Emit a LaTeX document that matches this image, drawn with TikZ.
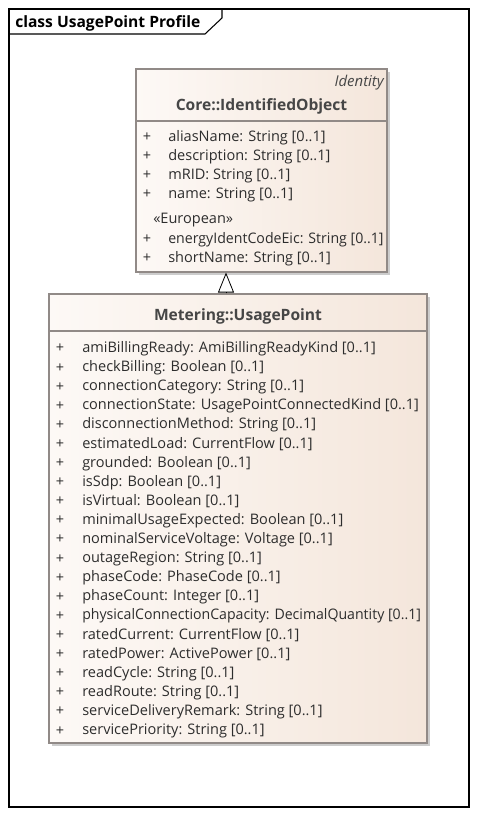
\documentclass[tikz,border=0pt]{standalone}
\usepackage{graphicx}
\usepackage{fontspec}
\setmainfont{Open Sans}
\usetikzlibrary{arrows.meta, positioning, shadows, fit}

\begin{document}
\begin{tikzpicture}[x=0.75pt, y=-0.75pt,
    classbox/.style={rectangle, draw=boxgray, line width=0.8pt, inner sep=0pt,
        left color=fillleft, right color=fillright,
        drop shadow={shadow xshift=2.2pt, shadow yshift=-2.2pt, fill=black!25, opacity=0.8}},
    sepline/.style={draw=boxgray, line width=0.8pt},
    attr/.style={anchor=west, inner sep=0pt, yshift=-2pt, text=txtgray, font=\fontsize{10.9}{12}\selectfont},
    plus/.style={inner sep=0pt, yshift=-2pt, text=txtgray, font=\fontsize{10.9}{12}\selectfont},
    clsname/.style={inner sep=0pt, yshift=-1.5pt, text=namegray, font=\fontsize{11.7}{13}\selectfont\bfseries},
    gen/.style={-{Triangle[open, length=15pt, width=12pt]}, line width=0.6pt}]

    % Define colors
    \definecolor{boxgray}{RGB}{145,138,135}
    \definecolor{fillleft}{RGB}{253,249,246}
    \definecolor{fillright}{RGB}{244,230,219}
    \definecolor{txtgray}{RGB}{45,45,45}
    \definecolor{namegray}{RGB}{70,70,70}

    \useasboundingbox (0,0) rectangle (478,816);

    % Frame and title tab
    \draw[line width=0.9pt] (9,9) rectangle (469,807);
    \draw[line width=0.8pt] (9,34) -- (205,34) -- (222,18) -- (222,9);
    \node[anchor=west, inner sep=0pt, yshift=-1.5pt, font=\fontsize{11.7}{13}\selectfont\bfseries] (title) at (15,21) {class UsagePoint Profile};

    % Classes
    \node[classbox, fit={(136,69) (387,272)}] (core) {};
    \node[classbox, fit={(49,294) (427,743)}] (usage) {};
    \draw[sepline] (core.west |- 0,121) -- (core.east |- 0,121);
    \draw[sepline] (usage.west |- 0,331) -- (usage.east |- 0,331);

    % Core::IdentifiedObject
    \node[anchor=east, inner sep=0pt, yshift=-2pt, text=namegray, font=\fontsize{11.2}{12}\selectfont\itshape] (ident) at (384,80) {Identity};
    \node[clsname] (corename) at (261.5,104) {Core::IdentifiedObject};
    \foreach \a/\y in {{aliasName: String [0..1]}/135, {description: String [0..1]}/154,
        {mRID: String [0..1]}/173, {name: String [0..1]}/192,
        {\scalebox{0.973}[1]{energyIdentCodeEic: String [0..1]}}/237, {shortName: String [0..1]}/256} {
        \node[plus] at (147,\y) {+};
        \node[attr] at (168,\y) {\a};
    }
    \node[attr] (euro) at (153,217) {«European»};

    % Metering::UsagePoint
    \node[clsname] (usagename) at (238,314) {Metering::UsagePoint};
    \foreach \a [count=\i from 0] in {
        {amiBillingReady: AmiBillingReadyKind [0..1]},
        {checkBilling: Boolean [0..1]},
        {connectionCategory: String [0..1]},
        {connectionState: UsagePointConnectedKind [0..1]},
        {disconnectionMethod: String [0..1]},
        {estimatedLoad: CurrentFlow [0..1]},
        {grounded: Boolean [0..1]},
        {isSdp: Boolean [0..1]},
        {isVirtual: Boolean [0..1]},
        {minimalUsageExpected: Boolean [0..1]},
        {nominalServiceVoltage: Voltage [0..1]},
        {outageRegion: String [0..1]},
        {phaseCode: PhaseCode [0..1]},
        {phaseCount: Integer [0..1]},
        {\scalebox{0.971}[1]{physicalConnectionCapacity: DecimalQuantity [0..1]}},
        {ratedCurrent: CurrentFlow [0..1]},
        {ratedPower: ActivePower [0..1]},
        {readCycle: String [0..1]},
        {readRoute: String [0..1]},
        {serviceDeliveryRemark: String [0..1]},
        {servicePriority: String [0..1]}} {
        \node[plus] at (60,346+19.1*\i) {+};
        \node[attr] at (82,346+19.1*\i) {\a};
    }

    % Generalization
    \coordinate (genx) at (226,0);
    \draw[gen] (usage.north -| genx) -- (core.south -| genx);

\end{tikzpicture}
\end{document}
